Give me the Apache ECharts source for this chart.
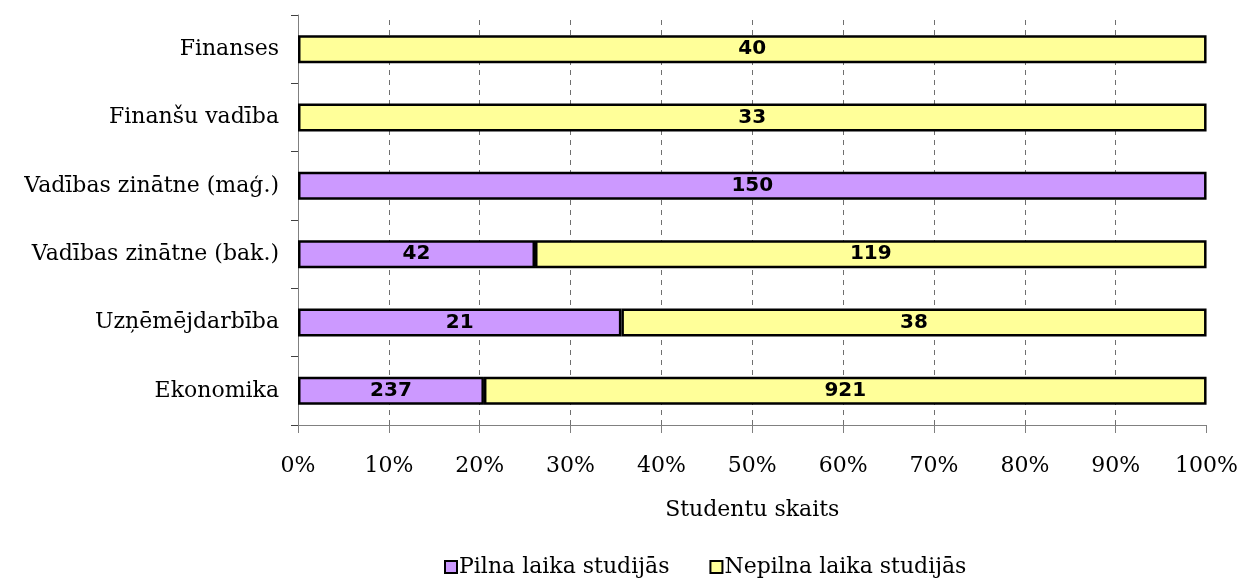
<!DOCTYPE html>
<html>
<head>
<meta charset="utf-8">
<script src="https://cdn.jsdelivr.net/npm/echarts@6/dist/echarts.min.js"></script>
<style>html,body{margin:0;padding:0;background:#fff}#c{width:1241px;height:580px}</style>
</head>
<body>
<div id="c"></div>
<script>
var categories = ['Ekonomika', 'Uzņēmējdarbība', 'Vadības zinātne (bak.)', 'Vadības zinātne (maģ.)', 'Finanšu vadība', 'Finanses'];
var fullTime = [237, 21, 42, 150, 0, 0];
var partTime = [921, 38, 119, 0, 33, 40];
var seriesNames = ['Pilna laika studijās', 'Nepilna laika studijās'];
var xTickValues = [0, 10, 20, 30, 40, 50, 60, 70, 80, 90, 100];
var gridValues = [10, 20, 30, 40, 50, 60, 70, 80, 90];

function toPct(arr) {
  return arr.map(function (v, i) {
    var total = fullTime[i] + partTime[i];
    if (!v) return { value: '-', raw: 0 };
    return { value: v / total * 100, raw: v };
  });
}

var serif = 'DejaVu Serif';
var labelStyle = {
  show: true, position: 'inside', color: '#000', fontFamily: 'DejaVu Sans',
  fontWeight: 'bold', fontSize: 20,
  formatter: function (p) { return p.data.raw ? String(p.data.raw) : ''; }
};

var chart = echarts.init(document.getElementById('c'), null, { renderer: 'canvas' });
chart.setOption({
  animation: false,
  backgroundColor: '#fff',
  grid: { left: 298, right: 34, top: 15, bottom: 155, containLabel: false },
  xAxis: {
    type: 'value', min: 0, max: 100, interval: 10,
    name: 'Studentu skaits', nameLocation: 'middle', nameGap: 74,
    nameTextStyle: { fontFamily: serif, fontSize: 22, color: '#000' },
    axisLine: { show: true, lineStyle: { color: '#808080', width: 1 } },
    axisTick: { show: true, length: 8, lineStyle: { color: '#808080' } },
    axisLabel: { margin: 30, fontFamily: serif, fontSize: 22, color: '#000',
      formatter: function (v) { return xTickValues.indexOf(v) >= 0 ? v + '%' : ''; } },
    splitLine: { show: false }
  },
  yAxis: {
    type: 'category', data: categories,
    axisLine: { show: true, lineStyle: { color: '#808080', width: 1 } },
    axisTick: { show: true, length: 7, lineStyle: { color: '#404040' } },
    axisLabel: { margin: 19, fontFamily: serif, fontSize: 22, color: '#000' },
    splitLine: { show: false }
  },
  legend: {
    top: 551, left: 439, itemWidth: 12, itemHeight: 12, itemGap: 40, icon: 'rect',
    textStyle: { fontFamily: serif, fontSize: 22, color: '#000', padding: [0, 0, 0, -3] },
    data: seriesNames
  },
  series: [
    { name: seriesNames[0], type: 'bar', stack: 's', barWidth: 28, z: 3,
      itemStyle: { color: '#CC99FF', borderColor: '#000', borderWidth: 2.5 },
      label: labelStyle, data: toPct(fullTime),
      markLine: {
        silent: true, symbol: 'none', label: { show: false }, z: 1,
        lineStyle: { color: '#707070', type: [5, 5], width: 1 },
        data: gridValues.map(function (v) { return { xAxis: v }; })
      } },
    { name: seriesNames[1], type: 'bar', stack: 's', barWidth: 28, z: 3,
      itemStyle: { color: '#FFFF99', borderColor: '#000', borderWidth: 2.5 },
      label: labelStyle, data: toPct(partTime) }
  ]
});
</script>
</body>
</html>
